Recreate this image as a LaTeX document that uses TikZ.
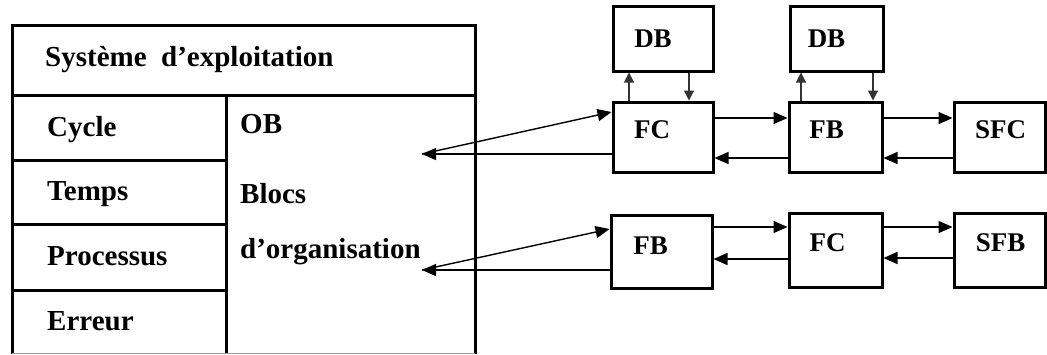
\documentclass[tikz,border=0pt]{standalone}
\usepackage{fontspec}
\setmainfont{Liberation Serif}
\usetikzlibrary{arrows.meta}
\begin{document}
\begin{tikzpicture}[x=1pt,y=-1pt,
  blk/.style={draw, line width=3pt, rectangle, inner sep=0pt},
  every label/.style={inner sep=0pt, font=\fontsize{27}{30}\selectfont\bfseries},
  tbl/.style={line width=3pt},
  ttxt/.style={anchor=base west, inner sep=0pt, font=\fontsize{29}{32}\selectfont\bfseries},
  arr/.style={line width=1.4pt, -{Triangle[length=14pt,width=12pt]}},
  darr/.style={line width=1.1pt, draw=black!80, -{Triangle[length=10pt,width=10pt]}}]
\useasboundingbox (0,0) rectangle (1047,354);
% left table
\draw[tbl] (12,354) -- (12,25) -- (475,25) -- (475,354);
\draw[tbl] (12,95) -- (475,95);
\draw[tbl] (226,95) -- (226,354);
\draw[tbl] (12,160) -- (226,160);
\draw[tbl] (12,224) -- (226,224);
\draw[tbl] (12,290) -- (226,290);
\draw[line width=1pt, draw=black!40] (12,353) -- (475,353);
\node[ttxt] (sys) at (45,66) {Système\ \ d’exploitation};
\node[ttxt] (cyc) at (47,136) {Cycle};
\node[ttxt] (tmp) at (47,200) {Temps};
\node[ttxt] (proc) at (47,265) {Processus};
\node[ttxt] (err) at (47,330) {Erreur};
\node[ttxt] (ob) at (240,133) {OB};
\node[ttxt] (blocs) at (240,203) {Blocs};
\node[ttxt] (dorg) at (240,258) {d’organisation};
% right boxes
\node[blk, minimum width=100pt, minimum height=65pt, label={[xshift=-10pt]center:DB}] (db1) at (663,38.5) {};
\node[blk, minimum width=93pt, minimum height=65pt, label={[xshift=-10pt]center:DB}] (db2) at (836.5,38.5) {};
\node[blk, minimum width=100pt, minimum height=70pt, label={[xshift=-11pt,yshift=7pt]center:FC}] (fc1) at (663,137) {};
\node[blk, minimum width=93pt, minimum height=70pt, label={[xshift=-9pt,yshift=7pt]center:FB}] (fb1) at (835.5,137) {};
\node[blk, minimum width=91pt, minimum height=70pt, label={[xshift=1pt,yshift=7pt]center:SFC}] (sfc) at (999.5,137) {};
\node[blk, minimum width=101pt, minimum height=73pt, label={[xshift=-11pt,yshift=6pt]center:FB}] (fb2) at (661.5,251.5) {};
\node[blk, minimum width=93pt, minimum height=74pt, label={[xshift=-8pt,yshift=7pt]center:FC}] (fc2) at (835.5,250) {};
\node[blk, minimum width=91pt, minimum height=74pt, label={[xshift=1pt,yshift=7pt]center:SFB}] (sfb) at (999.5,250) {};
% tips inside the table
\coordinate (tip1) at (422,154);
\coordinate (tip2) at (422,270);
% connectors
\draw[arr] (tip1) -- (fc1.west |- 0,112);
\draw[arr] (fc1.west |- 0,154) -- (tip1);
\draw[arr] (tip2) -- (fb2.west |- 0,229);
\draw[arr] (fb2.west |- 0,270) -- (tip2);
\draw[arr] (fc1.east |- 0,118) -- (fb1.west |- 0,118);
\draw[arr] (fb1.west |- 0,158) -- (fc1.east |- 0,158);
\draw[arr] (fb1.east |- 0,118) -- (sfc.west |- 0,118);
\draw[arr] (sfc.west |- 0,158) -- (fb1.east |- 0,158);
\draw[arr] (fb2.east |- 0,227) -- (fc2.west |- 0,227);
\draw[arr] (fc2.west |- 0,259) -- (fb2.east |- 0,259);
\draw[arr] (fc2.east |- 0,227) -- (sfb.west |- 0,227);
\draw[arr] (sfb.west |- 0,258) -- (fc2.east |- 0,258);
\draw[darr] (fc1.north -| 629,0) -- (db1.south -| 629,0);
\draw[darr] (db1.south -| 689,0) -- (fc1.north -| 689,0);
\draw[darr] (fb1.north -| 801,0) -- (db2.south -| 801,0);
\draw[darr] (db2.south -| 873,0) -- (fb1.north -| 873,0);
\end{tikzpicture}
\end{document}
